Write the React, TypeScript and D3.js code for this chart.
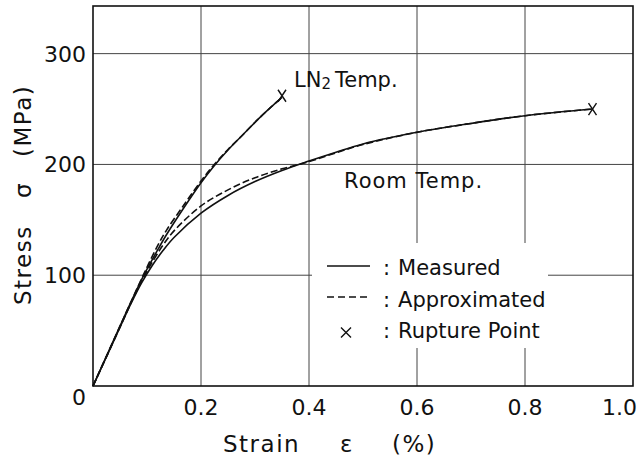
import React from 'react';
import * as d3 from 'd3';

// strain (%) / stress (MPa)
const ln2Strain = [0, 0.05, 0.07, 0.093, 0.12, 0.136, 0.167, 0.2, 0.223, 0.25, 0.278, 0.303, 0.328, 0.35];
const ln2Measured = [0, 54, 75.5, 99, 123, 136.5, 160, 183.5, 198, 213, 227, 239.5, 251, 260.5];
const ln2Approx = [0, 54, 75.5, 100, 127, 140.5, 162.5, 185, 199, 213.5, 227, 239.5, 251, 260.5];

const roomStrain = [0, 0.05, 0.07, 0.09, 0.11, 0.13, 0.15, 0.2, 0.25, 0.3, 0.35, 0.4, 0.45, 0.5, 0.6, 0.7, 0.8, 0.925];
const roomMeasured = [0, 53, 74, 93, 109, 122.5, 134, 156, 172, 184.5, 194.5, 203, 211, 218.5, 229, 237, 244, 250];
const roomApprox = [0, 53, 74.5, 94.5, 112, 127.5, 140, 162.5, 177, 188, 196, 202.5, 210.5, 218, 229, 237, 244, 250];

const rupture = [
  { strain: 0.35, stress: 262 },
  { strain: 0.925, stress: 250 },
];

const xTicks = [0.2, 0.4, 0.6, 0.8, 1.0];
const yTicks = [100, 200, 300];

const legendItems = ['Measured', 'Approximated', 'Rupture Point'];

const W = 640;
const H = 459;
const font = '"DejaVu Sans", sans-serif';

const App: React.FC = () => {
  const x = d3.scaleLinear().domain([0, 1]).range([93, 633]);
  const y = d3.scaleLinear().domain([0, 343]).range([386, 6]);

  const line = d3.line<[number, number]>()
    .x(d => x(d[0]))
    .y(d => y(d[1]))
    .curve(d3.curveCatmullRom.alpha(0.5));

  const zip = (xs: number[], ys: number[]) => xs.map((v, i) => [v, ys[i]] as [number, number]);

  const curves = [
    { d: line(zip(ln2Strain, ln2Measured)), dash: undefined },
    { d: line(zip(ln2Strain, ln2Approx)), dash: '7 3' },
    { d: line(zip(roomStrain, roomMeasured)), dash: undefined },
    { d: line(zip(roomStrain, roomApprox)), dash: '7 3' },
  ];

  const cross = (cx: number, cy: number, w: number, h: number) =>
    `M${cx - w},${cy - h}L${cx + w},${cy + h}M${cx + w},${cy - h}L${cx - w},${cy + h}`;

  return (
    <svg width={W} height={H} style={{ position: 'absolute', left: 0, top: 0, background: '#fff' }}
      fontFamily={font}>
      {/* grid */}
      <g stroke="#444" strokeWidth={1}>
        {xTicks.slice(0, -1).map(t => (
          <line key={'gx' + t} x1={x(t)} x2={x(t)} y1={y(0)} y2={y(343)} />
        ))}
        {yTicks.map(t => (
          <line key={'gy' + t} x1={x(0)} x2={x(1)} y1={y(t)} y2={y(t)} />
        ))}
      </g>

      {/* legend box covers the grid */}
      <rect x={312} y={243} width={236} height={105} fill="#fff" />

      <rect x={x(0)} y={y(343)} width={x(1) - x(0)} height={y(0) - y(343)}
        fill="none" stroke="#111" strokeWidth={1.6} />

      {curves.map((c, i) => (
        <path key={i} d={c.d || ''} fill="none" stroke="#111" strokeWidth={1.6}
          strokeDasharray={c.dash} />
      ))}

      {rupture.map((r, i) => (
        <path key={i} d={cross(x(r.strain), y(r.stress), 4, 6)} stroke="#111" strokeWidth={1.4} fill="none" />
      ))}

      {/* tick labels */}
      <g fontSize={22} fill="#111">
        {yTicks.map(t => (
          <text key={'ly' + t} x={86} y={y(t)} dy="0.36em" textAnchor="end">{t}</text>
        ))}
        <text x={86} y={405} textAnchor="end">0</text>
        {xTicks.map((t, i) => (
          <text key={'lx' + t} x={i === xTicks.length - 1 ? x(t) + 4 : x(t)} y={415}
            textAnchor={i === xTicks.length - 1 ? 'end' : 'middle'}>{t.toFixed(1)}</text>
        ))}
      </g>

      {/* axis titles */}
      <g fontSize={23} fill="#111" letterSpacing={1.5}>
        <text x={223} y={452}>Strain</text>
        <text x={347} y={452} textAnchor="middle">ε</text>
        <text x={392} y={452}>(%)</text>
        <g transform="translate(31,0) rotate(-90)">
          <text x={-305} y={0}>Stress</text>
          <text x={-190} y={0} textAnchor="middle">σ</text>
          <text x={-157} y={0}>(MPa)</text>
        </g>
      </g>

      {/* annotations */}
      <g fontSize={21} fill="#111">
        <text x={294} y={87}>LN<tspan fontSize={15} dy={2}>2</tspan><tspan dy={-2} dx={4}>Temp.</tspan></text>
        <text x={344} y={188} letterSpacing={1}>Room Temp.</text>
      </g>

      {/* legend */}
      <g fontSize={21} fill="#111">
        <line x1={327} x2={370} y1={266} y2={266} stroke="#111" strokeWidth={1.4} />
        <line x1={327} x2={370} y1={297} y2={297} stroke="#111" strokeWidth={1.4} strokeDasharray="7 4" />
        <path d={cross(346, 332.5, 5, 5)} stroke="#111" strokeWidth={1.4} />
        {legendItems.map((t, i) => (
          <text key={t} x={383} y={275 + i * 31.5}>:<tspan dx={8}>{t}</tspan></text>
        ))}
      </g>
    </svg>
  );
};

export default App;
